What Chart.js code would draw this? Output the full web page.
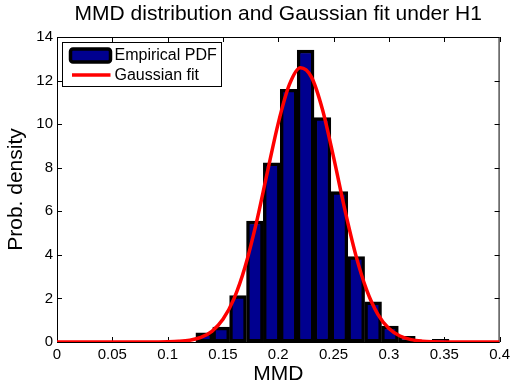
<!DOCTYPE html>
<html>
<head>
<meta charset="utf-8">
<script src="https://cdn.jsdelivr.net/npm/chart.js@4/dist/chart.umd.min.js"></script>
<style>
  body { margin: 0; background: #fff; }
  #wrap { width: 514px; height: 383px; }
</style>
</head>
<body>
<div id="wrap"><canvas id="mmdChart" width="514" height="383"></canvas></div>
<script>
// histogram bins (centres) and normalised counts
var binCenters = [0.1331, 0.1484, 0.1636, 0.1789, 0.1941, 0.2094, 0.2247, 0.2399, 0.2552, 0.2704, 0.2857, 0.3009, 0.3162, 0.3314, 0.3467];
var binDensity = [0.42, 0.68, 2.13, 5.55, 8.22, 11.6, 13.4, 10.3, 6.9, 3.92, 1.84, 0.73, 0.26, 0, 0.12];

// gaussian fit curve
var fitX = [0, 0.05, 0.08, 0.09, 0.10, 0.11, 0.12, 0.13, 0.14, 0.15, 0.16, 0.17, 0.18, 0.19, 0.20, 0.21, 0.22, 0.23, 0.24, 0.25, 0.26, 0.27, 0.28, 0.29, 0.30, 0.31, 0.32, 0.33, 0.34, 0.35, 0.36, 0.40];
var fitY = [0, 0, 0.001, 0.003, 0.009, 0.029, 0.082, 0.21, 0.49, 1.04, 1.99, 3.45, 5.43, 7.76, 10.05, 11.81, 12.59, 12.16, 10.66, 8.47, 6.11, 4.0, 2.37, 1.27, 0.62, 0.275, 0.11, 0.04, 0.013, 0.004, 0.001, 0];

var xTickValues = [0, 0.05, 0.1, 0.15, 0.2, 0.25, 0.3, 0.35, 0.4];
var xTickLabels = ['0', '0.05', '0.1', '0.15', '0.2', '0.25', '0.3', '0.35', '0.4'];
var yTickLabels = ['0', '2', '4', '6', '8', '10', '12', '14'];

var seriesNames = ['Empirical PDF', 'Gaussian fit'];
var barBlue = '#00008f';
var fitRed = '#ff0000';
var fontFam = '"Liberation Sans", Arial, Helvetica, sans-serif';

function toPoints(xs, ys) {
    return xs.map(function(x, i) { return { x: x, y: ys[i] }; });
}

// matlab style box with inward ticks on all four sides
var boxPlugin = {
    id: 'boxPlugin',
    beforeDatasetsDraw: function(chart) {
        var ctx = chart.ctx;
        var a = chart.chartArea;
        var xs = chart.scales.x, ys = chart.scales.y;
        var tl = 5;
        ctx.save();
        ctx.strokeStyle = '#000';
        ctx.lineWidth = 1;
        ctx.strokeRect(a.left + 0.5, a.top + 0.5, a.right - a.left - 1, a.bottom - a.top);
        ctx.beginPath();
        xTickValues.forEach(function(v) {
            var px = Math.round(xs.getPixelForValue(v)) + 0.5;
            ctx.moveTo(px, a.bottom); ctx.lineTo(px, a.bottom - tl);
            ctx.moveTo(px, a.top); ctx.lineTo(px, a.top + tl);
        });
        yTickLabels.forEach(function(l) {
            var py = Math.round(ys.getPixelForValue(+l)) + 0.5;
            ctx.moveTo(a.left, py); ctx.lineTo(a.left + tl, py);
            ctx.moveTo(a.right, py); ctx.lineTo(a.right - tl, py);
        });
        ctx.stroke();
        ctx.restore();
    },
    afterDraw: function(chart) {
        // legend box, top left inside the axes
        var ctx = chart.ctx;
        var a = chart.chartArea;
        var lx = a.left + 5.5, ly = a.top + 5.5;
        ctx.save();
        ctx.fillStyle = '#fff';
        ctx.fillRect(lx, ly, 159, 44);
        ctx.strokeStyle = '#000';
        ctx.lineWidth = 1;
        ctx.strokeRect(lx, ly, 159, 44);

        ctx.beginPath();
        ctx.roundRect(lx + 8, ly + 6.5, 40, 13, 2.5);
        ctx.fillStyle = barBlue;
        ctx.fill();
        ctx.lineWidth = 3.5;
        ctx.stroke();

        ctx.beginPath();
        ctx.moveTo(lx + 9.5, ly + 32.5);
        ctx.lineTo(lx + 48, ly + 32.5);
        ctx.strokeStyle = fitRed;
        ctx.lineWidth = 3.5;
        ctx.stroke();

        ctx.fillStyle = '#000';
        ctx.font = '16px ' + fontFam;
        ctx.textBaseline = 'middle';
        ctx.textAlign = 'left';
        ctx.fillText(seriesNames[0], lx + 52, ly + 13);
        ctx.fillText(seriesNames[1], lx + 52, ly + 33.5);
        ctx.restore();
    }
};

var ctx = document.getElementById('mmdChart').getContext('2d');

var mmdChart = new Chart(ctx, {
    type: 'bar',
    data: {
        datasets: [{
            type: 'line',
            label: seriesNames[1],
            data: toPoints(fitX, fitY),
            borderColor: fitRed,
            borderWidth: 3.5,
            pointRadius: 0,
            cubicInterpolationMode: 'monotone',
            order: 0
        }, {
            type: 'bar',
            label: seriesNames[0],
            data: toPoints(binCenters, binDensity),
            backgroundColor: barBlue,
            borderColor: '#000',
            borderWidth: 3.4,
            borderSkipped: false,
            barPercentage: 1,
            categoryPercentage: 1,
            order: 1
        }]
    },
    options: {
        responsive: false,
        animation: false,
        devicePixelRatio: 1,
        layout: { padding: { left: 0, right: 11, top: 0, bottom: 0 } },
        plugins: {
            legend: { display: false },
            tooltip: { enabled: false },
            title: {
                display: true,
                text: 'MMD distribution and Gaussian fit under H1',
                fullSize: false,
                color: '#000',
                font: { family: fontFam, size: 21, weight: 'normal', lineHeight: 1.2 },
                padding: { top: 2, bottom: 9.8 }
            }
        },
        scales: {
            x: {
                type: 'linear',
                min: 0,
                max: 0.4,
                offset: false,
                grid: { display: false, drawTicks: false },
                border: { display: false },
                afterBuildTicks: function(scale) {
                    scale.ticks = xTickValues.map(function(v) { return { value: v }; });
                },
                afterFit: function(scale) { scale.height = 41; },
                ticks: {
                    color: '#000',
                    padding: 4,
                    maxRotation: 0,
                    autoSkip: false,
                    font: { family: fontFam, size: 15 },
                    callback: function(value, index) { return xTickLabels[index]; }
                },
                title: {
                    display: true,
                    text: 'MMD',
                    color: '#000',
                    font: { family: fontFam, size: 21, lineHeight: 0.8 },
                    padding: { top: 0, bottom: 0 }
                }
            },
            y: {
                min: 0,
                max: 14,
                grid: { display: false, drawTicks: false },
                border: { display: false },
                afterFit: function(scale) { scale.width = 57; },
                ticks: {
                    stepSize: 2,
                    color: '#000',
                    padding: 4,
                    font: { family: fontFam, size: 15 },
                    callback: function(value, index) { return yTickLabels[index]; }
                },
                title: {
                    display: true,
                    text: 'Prob. density',
                    color: '#000',
                    font: { family: fontFam, size: 21, lineHeight: 1.2 },
                    padding: { top: 4, bottom: 0 }
                }
            }
        }
    },
    plugins: [boxPlugin]
});
</script>
</body>
</html>
